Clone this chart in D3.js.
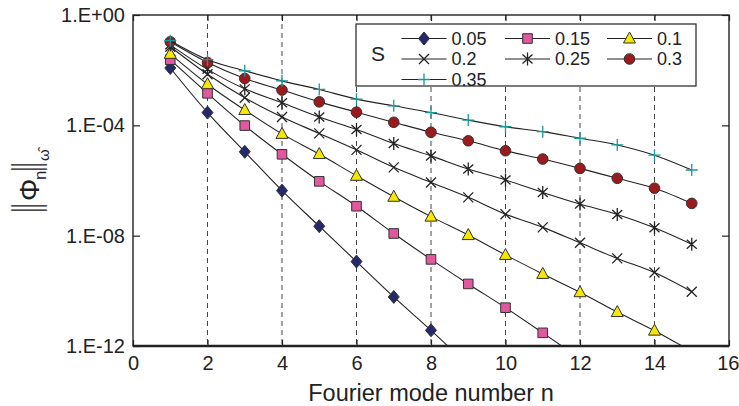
<!DOCTYPE html>
<html><head><meta charset="utf-8">
<script src="https://cdn.jsdelivr.net/npm/d3@7/dist/d3.min.js"></script>
<style>body{margin:0;background:#fff}svg{display:block}text{font-family:"Liberation Sans",Arial,sans-serif;fill:#222}</style>
</head><body>
<svg id="c" width="739" height="406"></svg>
<script>
const modes = [1,2,3,4,5,6,7,8,9,10,11,12,13,14,15];
const s005 = [1.2e-2,2.9e-4,1.1e-5,4.3e-7,2.2e-8,1.15e-9,6.0e-11,3.7e-12,2.0e-13];
const s015 = [2.4e-2,1.45e-3,9.8e-5,8.9e-6,9.3e-7,1.17e-7,1.2e-8,1.38e-9,1.78e-10,2.45e-11,3.0e-12,3.5e-13];
const s010 = [3.9e-2,3.1e-3,3.6e-4,4.9e-5,9.1e-6,1.48e-6,2.57e-7,4.9e-8,1.05e-8,2.0e-9,4.1e-10,8.9e-11,1.7e-11,3.6e-12,6.3e-13];
const s020 = [7.1e-2,7.1e-3,1.0e-3,2.0e-4,5.1e-5,1.29e-5,3.0e-6,8.5e-7,2.45e-7,6.0e-8,2.0e-8,5.5e-9,1.5e-9,4.6e-10,9.3e-11];
const s025 = [8.3e-2,1.07e-2,2.1e-3,6.6e-4,2.0e-4,7.1e-5,2.2e-5,7.8e-6,2.6e-6,1.05e-6,3.7e-7,1.4e-7,5.9e-8,1.95e-8,4.9e-9];
const s030 = [0.107,1.9e-2,5.0e-3,1.9e-3,7.1e-4,3.0e-4,1.29e-4,5.6e-5,2.75e-5,1.2e-5,6.0e-6,2.75e-6,1.2e-6,5.25e-7,1.48e-7];
const s035 = [0.117,2.4e-2,9.5e-3,4.1e-3,2.0e-3,8.9e-4,5.1e-4,2.9e-4,1.55e-4,8.9e-5,5.9e-5,3.4e-5,1.95e-5,8.3e-6,2.4e-6];
const seriesNames = ["0.05","0.15","0.1","0.2","0.25","0.3","0.35"];
const seriesValues = [s005,s015,s010,s020,s025,s030,s035];
const xTicks = [0,2,4,6,8,10,12,14,16];
const gridX = [2,4,6,8,10,12,14];
const yTicks = [1,1e-4,1e-8,1e-12];
const yTickLabels = ["1.E+00","1.E-04","1.E-08","1.E-12"];
const legendTitle = "S";
const xTitle = "Fourier mode number n";

const markers = [
  {type:"diamond", fill:"#25286b"},
  {type:"square", fill:"#e0589e"},
  {type:"triangle", fill:"#f7e600"},
  {type:"times", fill:"none", stroke:"#222"},
  {type:"asterisk", fill:"none", stroke:"#222"},
  {type:"circle", fill:"#9a1a1d"},
  {type:"plus", fill:"none", stroke:"#1a9898"}
];

const svg = d3.select("#c");
const L=133, R=729, T=15, B=346;
const x = d3.scaleLinear().domain([0,16]).range([L,R]);
const y = d3.scaleLog().domain([1e-12,1]).range([B,T]);

function markerPath(type){
  const p = d3.path();
  if(type==="diamond"){p.moveTo(0,-6.5);p.lineTo(5.5,0);p.lineTo(0,6.5);p.lineTo(-5.5,0);p.closePath();}
  else if(type==="square"){p.rect(-4.8,-4.8,9.6,9.6);}
  else if(type==="triangle"){p.moveTo(0,-6.5);p.lineTo(6,4.5);p.lineTo(-6,4.5);p.closePath();}
  else if(type==="circle"){p.arc(0,0,5.3,0,2*Math.PI);}
  else if(type==="plus"){p.moveTo(-6,0);p.lineTo(6,0);p.moveTo(0,-6);p.lineTo(0,6);}
  else if(type==="times"){p.moveTo(-5,-5);p.lineTo(5,5);p.moveTo(-5,5);p.lineTo(5,-5);}
  else if(type==="asterisk"){p.moveTo(0,-6.5);p.lineTo(0,6.5);p.moveTo(-5,-4.5);p.lineTo(5,4.5);p.moveTo(-5,4.5);p.lineTo(5,-4.5);}
  return p.toString();
}
function drawMarker(g, m){
  g.append("path").attr("d", markerPath(m.type))
   .attr("fill", m.fill)
   .attr("stroke", m.stroke || "#333")
   .attr("stroke-width", m.stroke ? 1.3 : 1);
}

svg.append("defs").append("clipPath").attr("id","clip")
  .append("rect").attr("x",L).attr("y",T).attr("width",R-L).attr("height",B-T);

// grid
svg.append("g").selectAll("line").data(gridX).join("line")
  .attr("x1",d=>x(d)).attr("x2",d=>x(d)).attr("y1",T).attr("y2",B)
  .attr("stroke","#444").attr("stroke-width",1).attr("stroke-dasharray","5,4");

// series
const line = d3.line().x((d,i)=>x(modes[i])).y(d=>y(d)).curve(d3.curveMonotoneX);
const plotG = svg.append("g").attr("clip-path","url(#clip)");
seriesValues.forEach((vals,k)=>{
  const g = plotG.append("g");
  g.append("path").attr("d", line(vals)).attr("fill","none").attr("stroke","#222").attr("stroke-width",1.1);
  vals.forEach((v,i)=>{
    const mg = g.append("g").attr("transform",`translate(${x(modes[i])},${y(v)})`);
    drawMarker(mg, markers[k]);
  });
});

// axes
const fs = "20px";
const ax = svg.append("g").attr("transform",`translate(0,${B})`)
  .call(d3.axisBottom(x).tickValues(xTicks).tickSizeInner(-6).tickSizeOuter(0).tickPadding(10).tickFormat(d3.format("d")));
const axT = svg.append("g").attr("transform",`translate(0,${T})`)
  .call(d3.axisTop(x).tickValues(xTicks).tickSizeInner(-6).tickSizeOuter(0).tickFormat(""));
const ay = svg.append("g").attr("transform",`translate(${L},0)`)
  .call(d3.axisLeft(y).tickValues(yTicks).tickSizeInner(-7).tickSizeOuter(0).tickPadding(8).tickFormat((d,i)=>yTickLabels[i]));
const ayR = svg.append("g").attr("transform",`translate(${R},0)`)
  .call(d3.axisRight(y).tickValues(yTicks).tickSizeInner(-7).tickSizeOuter(0).tickFormat(""));
[ax,axT,ay,ayR].forEach(a=>{
  a.selectAll(".domain").remove();
  a.selectAll(".tick line").attr("stroke","#222").attr("stroke-width",1.2);
  a.selectAll("text").style("font-size",fs).attr("fill","#222").style("font-family","'Liberation Sans',Arial,sans-serif");
});
// keep last x label inside the page
ax.selectAll(".tick text").filter(d=>d===16).attr("text-anchor","end").attr("x",10);
// frame
svg.append("rect").attr("x",L).attr("y",T).attr("width",R-L).attr("height",B-T)
  .attr("fill","none").attr("stroke","#222").attr("stroke-width",1.4);
svg.append("line").attr("x1",L).attr("x2",R).attr("y1",B).attr("y2",B).attr("stroke","#222").attr("stroke-width",2.4);

// x title
svg.append("text").attr("x",(L+R)/2).attr("y",401).attr("text-anchor","middle")
  .style("font-size","23.5px").text(xTitle);

// y title  ‖Φn‖ω̂
const yg = svg.append("g").attr("transform","translate(39,212) rotate(-90)");
function bar(lx){
  yg.append("text").attr("transform",`translate(${lx},0) scale(1,2.75)`).style("font-size","14px").text("|");
}
bar(0); bar(4.3);
yg.append("text").attr("x",11).attr("y",0).style("font-size","28px").text("Φ");
yg.append("text").attr("x",32).attr("y",7).style("font-size","17px").text("n");
bar(41); bar(45.3);
yg.append("text").attr("x",51).attr("y",10).style("font-size","15px").text("ω\u0302");

// legend
const lg = svg.append("g");
lg.append("rect").attr("x",356).attr("y",24).attr("width",340).attr("height",62)
  .attr("fill","#fff").attr("stroke","#222").attr("stroke-width",1.2);
lg.append("text").attr("x",378).attr("y",53).attr("text-anchor","middle").attr("dominant-baseline","central")
  .style("font-size","21px").text(legendTitle);
const rowsY = [38.5,59,79.5];
const colX = [401.5,505,607];
seriesNames.forEach((name,k)=>{
  const r = Math.floor(k/3), c = k%3;
  const x0 = colX[c], yy = rowsY[r];
  lg.append("line").attr("x1",x0).attr("x2",x0+45).attr("y1",yy).attr("y2",yy).attr("stroke","#222").attr("stroke-width",1.1);
  drawMarker(lg.append("g").attr("transform",`translate(${x0+22.5},${yy})`), markers[k]);
  lg.append("text").attr("x",x0+50).attr("y",yy).attr("dominant-baseline","central").style("font-size","18px").text(name);
});
</script>
</body></html>
